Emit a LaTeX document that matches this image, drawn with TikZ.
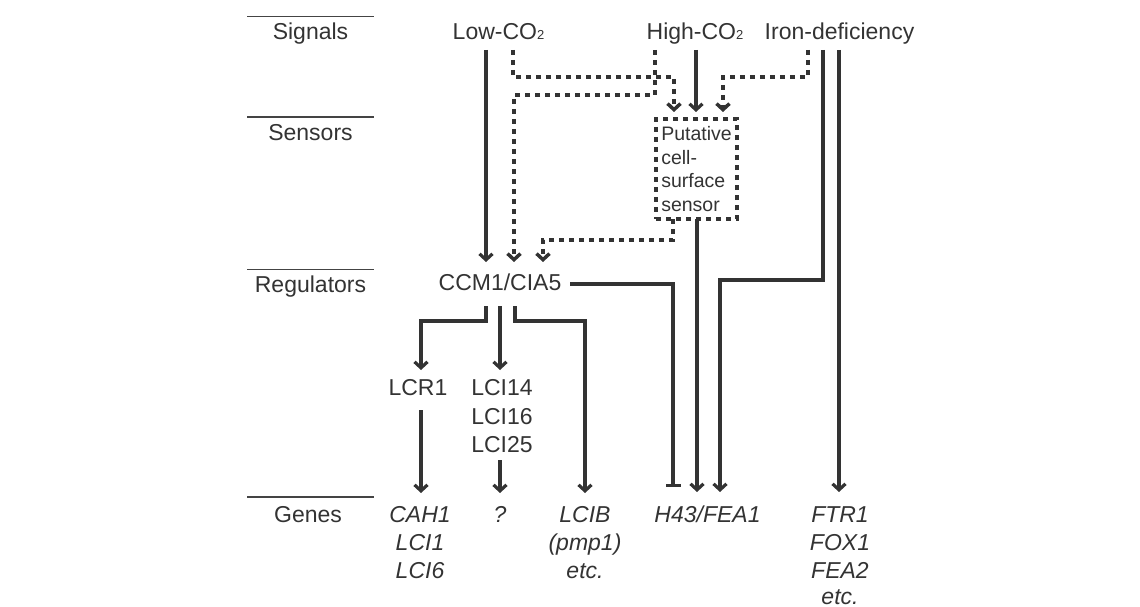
\documentclass[tikz,border=0pt]{standalone}
\usepackage{fontspec}
\setmainfont{Liberation Sans}
\usetikzlibrary{arrows.meta}
\definecolor{ink}{HTML}{333333}
\definecolor{rulec}{HTML}{444444}
\newcommand{\subtwo}{{\fontsize{13}{13}\selectfont 2}}
\begin{document}
\begin{tikzpicture}[x=1pt,y=-1pt,
  every node/.style={inner sep=0pt, outer sep=0pt, text=ink, font=\fontsize{23}{28}\selectfont, text height=17pt, text depth=5pt, anchor=base},
  gene/.style={font=\fontsize{23}{28}\selectfont\itshape},
  arr/.style={draw=ink, line width=3.2pt, -{Straight Barb[length=6pt,width=13pt]}},
  dotarr/.style={draw=ink, line width=3.5pt, dash pattern=on 5pt off 5pt, -{Straight Barb[length=6pt,width=13pt]}},
  inh/.style={draw=ink, line width=3.2pt, -{Bar[width=15pt]}},
  rulestyle/.style={draw=rulec, line width=1.6pt},
]
\useasboundingbox (0,0) rectangle (1140,607);

% left column
\draw[rulestyle] (247,16.5) -- (374,16.5);
\draw[rulestyle] (247,117) -- (374,117);
\draw[rulestyle] (247,269.5) -- (374,269.5);
\draw[rulestyle] (247,497) -- (374,497);
\node (sig) at (310.5,40) {Signals};
\node (sen) at (310.5,140) {Sensors};
\node (reg) at (310.5,292) {Regulators};
\node (gen) at (308,522) {Genes};

% signals
\node (low) at (498.5,40) {Low-CO\subtwo};
\node (high) at (695,40) {High-CO\subtwo};
\node (iron) at (839.5,40) {Iron-deficiency};

% sensor box
\node[draw=ink, line width=3.2pt, dash pattern=on 5pt off 5pt, minimum width=81pt, minimum height=100pt, anchor=center, align=left, text height=, text depth=, font=\fontsize{19.5}{23.5}\selectfont] (sensor) at (696.5,169) {Putative\\cell-\\surface\\sensor};

% regulators
\node (ccm) at (500,290) {CCM1/CIA5};
\node (lcr) at (418,395) {LCR1};
\node (lci14) at (502,395) {LCI14};
\node (lci16) at (502,424) {LCI16};
\node (lci25) at (502,452) {LCI25};

% genes
\node[gene] (cah1) at (420,522) {CAH1};
\node[gene] (lci1) at (420,550) {LCI1};
\node[gene] (lci6) at (420,578) {LCI6};
\node[gene] (q) at (500,522) {?};
\node[gene] (lcib) at (585,522) {LCIB};
\node[gene] (pmp) at (585,550) {(pmp1)};
\node[gene] (etca) at (585,578) {etc.};
\node[gene] (h43) at (707.5,522) {H43/FEA1};
\node[gene] (ftr1) at (840,522) {FTR1};
\node[gene] (fox1) at (840,550) {FOX1};
\node[gene] (fea2) at (840,578) {FEA2};
\node[gene, text depth=0pt] (etcb) at (840,604) {etc.};

% connectors
\draw[arr, shorten <=5pt, shorten >=11pt] (low.south -| 486,0) -- (ccm.north -| 486,0);
\draw[dotarr, shorten <=5pt, shorten >=7pt] (low.south -| 513,0) |- (674,77) -- (sensor.north -| 674,0);
\draw[dotarr, shorten <=5pt, shorten >=11pt] (high.south -| 655,0) |- (514,95) -- (ccm.north -| 514,0);
\draw[arr, shorten <=5pt, shorten >=7pt] (high.south -| 696,0) -- (sensor.north -| 696,0);
\draw[dotarr, shorten <=5pt, shorten >=7pt] (iron.south -| 808,0) |- (723,77) -- (sensor.north -| 723,0);
\draw[arr, shorten <=5pt, shorten >=13pt] (iron.south -| 823,0) |- (720,280) -- (h43.north -| 720,0);
\draw[arr, shorten <=5pt, shorten >=13pt] (iron.south -| 839,0) -- (ftr1.north -| 839,0);
\draw[dotarr, shorten >=11pt] (sensor.south -| 673,0) |- (543,240) -- (ccm.north -| 543,0);
\draw[arr, shorten >=13pt] (sensor.south -| 697,0) -- (h43.north -| 697,0);
\draw[inh, shorten <=9pt, shorten >=18pt] (ccm.east) -| (h43.north -| 673,0);
\draw[arr, shorten <=11pt, shorten >=8pt] (ccm.south -| 486,0) |- (421,321) -- (lcr.north -| 421,0);
\draw[arr, shorten <=11pt, shorten >=8pt] (ccm.south -| 500,0) -- (lci14.north -| 500,0);
\draw[arr, shorten <=11pt, shorten >=12pt] (ccm.south -| 515,0) |- (585,321) -- (lcib.north -| 585,0);
\draw[arr, shorten <=10pt, shorten >=12pt] (lcr.south -| 421,0) -- (cah1.north -| 421,0);
\draw[arr, shorten <=3pt, shorten >=12pt] (lci25.south -| 500,0) -- (q.north -| 500,0);
\end{tikzpicture}
\end{document}
